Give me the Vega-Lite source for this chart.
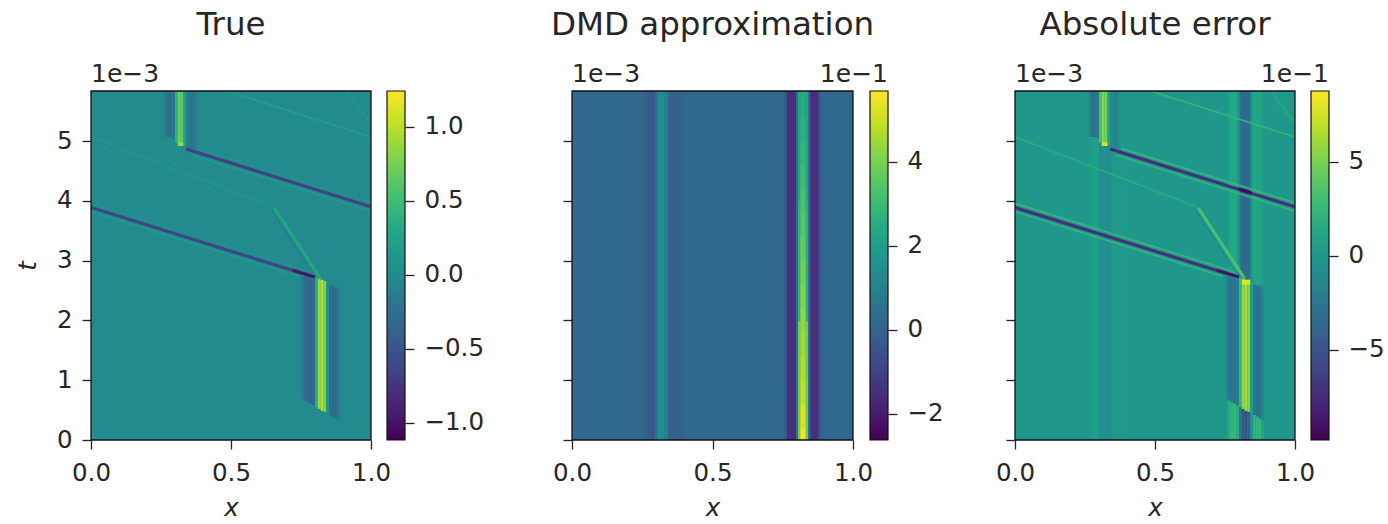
{
"$schema":"https://vega.github.io/schema/vega-lite/v6.json",
"padding":{"left":15,"top":8,"right":0,"bottom":6},
"background":"white",
"config":{"view":{"stroke":null},"font":"DejaVu Sans",
"title":{"font":"DejaVu Sans","fontSize":32.5,"fontWeight":"normal","color":"#262626","anchor":"middle","offset":21,"baseline":"alphabetic"},
"axis":{"domain":false,"grid":false,"tickColor":"#222222","tickSize":9,"tickWidth":1.3,"labelFont":"DejaVu Sans","labelFontSize":24.5,"labelColor":"#262626","labelPadding":10,"titleFont":"DejaVu Sans","titleFontSize":24.5,"titleFontWeight":"normal","titleFontStyle":"italic","titleColor":"#262626","titlePadding":16,"labelFlush":false,"labelOverlap":false},
"axisX":{"labelPadding":12,"titlePadding":12}},
"datasets":{
"frame":[{"x":0,"x2":1,"t":0,"t2":5.84}],
"off3":[{"x":0,"t":5.84,"label":"1e−3"}],
"p1r":[
{"x":0,"x2":1,"t":0,"t2":5.84,"v":0},
{"x":0.75,"x2":0.76,"t":0.69,"t2":2.74,"v":-0.12},
{"x":0.76,"x2":0.77,"t":0.66,"t2":2.74,"v":-0.3},
{"x":0.77,"x2":0.78,"t":0.63,"t2":2.74,"v":-0.36},
{"x":0.78,"x2":0.79,"t":0.61,"t2":2.74,"v":-0.38},
{"x":0.79,"x2":0.8,"t":0.58,"t2":2.74,"v":-0.3},
{"x":0.8,"x2":0.81,"t":0.55,"t2":2.72,"v":0.35},
{"x":0.81,"x2":0.82,"t":0.52,"t2":2.7,"v":0.88},
{"x":0.82,"x2":0.83,"t":0.49,"t2":2.68,"v":1.0},
{"x":0.83,"x2":0.84,"t":0.47,"t2":2.66,"v":0.8},
{"x":0.84,"x2":0.85,"t":0.44,"t2":2.62,"v":0.1},
{"x":0.85,"x2":0.86,"t":0.42,"t2":2.6,"v":-0.25},
{"x":0.86,"x2":0.87,"t":0.39,"t2":2.58,"v":-0.33},
{"x":0.87,"x2":0.88,"t":0.36,"t2":2.56,"v":-0.33},
{"x":0.88,"x2":0.89,"t":0.33,"t2":2.54,"v":-0.15},
{"x":0.26,"x2":0.27,"t":5.07,"t2":5.84,"v":-0.12},
{"x":0.27,"x2":0.29,"t":5.07,"t2":5.84,"v":-0.28},
{"x":0.29,"x2":0.3,"t":5.05,"t2":5.84,"v":-0.22},
{"x":0.3,"x2":0.31,"t":4.98,"t2":5.84,"v":0.4},
{"x":0.31,"x2":0.32,"t":4.94,"t2":5.84,"v":0.72},
{"x":0.32,"x2":0.33,"t":4.92,"t2":5.84,"v":0.68},
{"x":0.33,"x2":0.34,"t":4.92,"t2":5.84,"v":0.2},
{"x":0.34,"x2":0.35,"t":4.9,"t2":5.84,"v":-0.12},
{"x":0.35,"x2":0.37,"t":4.88,"t2":5.84,"v":-0.2},
{"x":0.37,"x2":0.38,"t":4.87,"t2":5.84,"v":-0.07},
{"x":0.31,"x2":0.33,"t":4.92,"t2":4.98,"v":0.88}
],
"p1h":[
{"x":0,"t":3.89,"x2":0.78,"t2":2.75,"v":-0.65},
{"x":0.72,"t":2.84,"x2":0.8,"t2":2.73,"v":-1.0},
{"x":0.34,"t":4.87,"x2":1,"t2":3.9,"v":-0.68},
{"x":0.655,"t":3.88,"x2":0.82,"t2":2.7,"v":0.3},
{"x":0.913,"t":5.84,"x2":1,"t2":5.3,"v":0.09}
],
"p1t":[
{"x":0,"t":3.82,"x2":0.74,"t2":2.74,"v":0.18},
{"x":0,"t":3.96,"x2":0.78,"t2":2.82,"v":0.08},
{"x":0.36,"t":4.77,"x2":1,"t2":3.83,"v":0.18},
{"x":0.38,"t":4.88,"x2":1,"t2":3.97,"v":0.08},
{"x":0,"t":5.07,"x2":0.65,"t2":3.9,"v":0.14},
{"x":0.485,"t":5.84,"x2":1,"t2":5.07,"v":0.22},
{"x":0.645,"t":3.85,"x2":0.79,"t2":2.8,"v":-0.12}
],
"p2r":[
{"x":0,"x2":1,"t":0,"t2":5.84,"v":0.15},
{"x":0.255,"x2":0.27,"t":0,"t2":5.84,"v":-0.05},
{"x":0.27,"x2":0.295,"t":0,"t2":5.84,"v":-0.35},
{"x":0.295,"x2":0.305,"t":0,"t2":5.84,"v":0.5},
{"x":0.305,"x2":0.33,"t":0,"t2":5.84,"v":1.4},
{"x":0.33,"x2":0.342,"t":0,"t2":5.84,"v":0.9},
{"x":0.342,"x2":0.355,"t":0,"t2":5.84,"v":-0.05},
{"x":0.355,"x2":0.385,"t":0,"t2":5.84,"v":-0.12},
{"x":0.385,"x2":0.395,"t":0,"t2":5.84,"v":0.02},
{"x":0.755,"x2":0.765,"t":0,"t2":5.84,"v":-0.3},
{"x":0.765,"x2":0.797,"t":0,"t2":5.84,"v":-1.5},
{"x":0.797,"x2":0.804,"t":0,"t2":5.84,"v":0.3},
{"x":0.84,"x2":0.848,"t":0,"t2":5.84,"v":0.3},
{"x":0.848,"x2":0.878,"t":0,"t2":5.84,"v":-1.5},
{"x":0.878,"x2":0.888,"t":0,"t2":5.84,"v":-0.3},
{"x":0.804,"x2":0.812,"t":0,"t2":2,"v":3.8},
{"x":0.804,"x2":0.812,"t":2,"t2":4,"v":2.7},
{"x":0.804,"x2":0.812,"t":4,"t2":5.84,"v":2.3},
{"x":0.832,"x2":0.84,"t":0,"t2":2,"v":3.8},
{"x":0.832,"x2":0.84,"t":2,"t2":4,"v":2.7},
{"x":0.832,"x2":0.84,"t":4,"t2":5.84,"v":2.3},
{"x":0.812,"x2":0.832,"t":0,"t2":0.22,"v":5.5},
{"x":0.812,"x2":0.832,"t":0.2,"t2":0.62,"v":5.2},
{"x":0.812,"x2":0.832,"t":0.6,"t2":1.02,"v":4.9},
{"x":0.812,"x2":0.832,"t":1,"t2":1.42,"v":4.7},
{"x":0.812,"x2":0.832,"t":1.4,"t2":1.82,"v":4.5},
{"x":0.812,"x2":0.832,"t":1.8,"t2":2.22,"v":4.3},
{"x":0.812,"x2":0.832,"t":2.2,"t2":2.62,"v":4.1},
{"x":0.812,"x2":0.832,"t":2.6,"t2":3.02,"v":3.9},
{"x":0.812,"x2":0.832,"t":3,"t2":3.42,"v":3.7},
{"x":0.812,"x2":0.832,"t":3.4,"t2":3.82,"v":3.5},
{"x":0.812,"x2":0.832,"t":3.8,"t2":4.22,"v":3.3},
{"x":0.812,"x2":0.832,"t":4.2,"t2":4.62,"v":3.1},
{"x":0.812,"x2":0.832,"t":4.6,"t2":5.02,"v":2.9},
{"x":0.812,"x2":0.832,"t":5,"t2":5.42,"v":2.7},
{"x":0.812,"x2":0.832,"t":5.4,"t2":5.84,"v":2.5}
],
"p3r":[
{"x":0,"x2":1,"t":0,"t2":5.84,"v":0},
{"x":0.26,"x2":0.27,"t":0,"t2":5.84,"v":0.3},
{"x":0.27,"x2":0.3,"t":0,"t2":5.84,"v":0.6},
{"x":0.3,"x2":0.345,"t":0,"t2":5.84,"v":-0.7},
{"x":0.345,"x2":0.39,"t":0,"t2":5.84,"v":0.25},
{"x":0.755,"x2":0.765,"t":2.7,"t2":5.84,"v":0.4},
{"x":0.765,"x2":0.795,"t":2.7,"t2":5.84,"v":1.3},
{"x":0.795,"x2":0.805,"t":2.7,"t2":5.84,"v":-0.8},
{"x":0.805,"x2":0.84,"t":2.7,"t2":5.84,"v":-3.5},
{"x":0.84,"x2":0.848,"t":2.7,"t2":5.84,"v":-0.8},
{"x":0.848,"x2":0.88,"t":2.6,"t2":5.84,"v":1.2},
{"x":0.88,"x2":0.89,"t":2.6,"t2":5.84,"v":0.4},
{"x":0.76,"x2":0.77,"t":0,"t2":0.66,"v":1.8},
{"x":0.77,"x2":0.78,"t":0,"t2":0.63,"v":2.5},
{"x":0.78,"x2":0.79,"t":0,"t2":0.61,"v":2.5},
{"x":0.79,"x2":0.8,"t":0,"t2":0.58,"v":1.8},
{"x":0.8,"x2":0.81,"t":0,"t2":0.55,"v":-2.5},
{"x":0.81,"x2":0.82,"t":0,"t2":0.52,"v":-5},
{"x":0.82,"x2":0.83,"t":0,"t2":0.49,"v":-5.2},
{"x":0.83,"x2":0.84,"t":0,"t2":0.47,"v":-4.5},
{"x":0.84,"x2":0.85,"t":0,"t2":0.44,"v":-0.3},
{"x":0.85,"x2":0.86,"t":0,"t2":0.42,"v":2},
{"x":0.86,"x2":0.87,"t":0,"t2":0.39,"v":2.5},
{"x":0.87,"x2":0.88,"t":0,"t2":0.36,"v":2.5},
{"x":0.88,"x2":0.89,"t":0,"t2":0.33,"v":1},
{"x":0.75,"x2":0.76,"t":0.69,"t2":2.74,"v":-1},
{"x":0.76,"x2":0.77,"t":0.66,"t2":2.74,"v":-2.6},
{"x":0.77,"x2":0.78,"t":0.63,"t2":2.74,"v":-2.8},
{"x":0.78,"x2":0.79,"t":0.61,"t2":2.74,"v":-2.8},
{"x":0.79,"x2":0.8,"t":0.58,"t2":2.74,"v":-2.2},
{"x":0.8,"x2":0.81,"t":0.55,"t2":2.72,"v":2.5},
{"x":0.81,"x2":0.82,"t":0.52,"t2":2.7,"v":5.8},
{"x":0.82,"x2":0.83,"t":0.49,"t2":2.68,"v":6.4},
{"x":0.83,"x2":0.84,"t":0.47,"t2":2.66,"v":5.2},
{"x":0.84,"x2":0.85,"t":0.44,"t2":2.62,"v":0.5},
{"x":0.85,"x2":0.86,"t":0.42,"t2":2.6,"v":-2.5},
{"x":0.86,"x2":0.87,"t":0.39,"t2":2.58,"v":-3},
{"x":0.87,"x2":0.88,"t":0.36,"t2":2.56,"v":-3},
{"x":0.88,"x2":0.89,"t":0.33,"t2":2.54,"v":-1.5},
{"x":0.81,"x2":0.84,"t":2.6,"t2":2.68,"v":8},
{"x":0.26,"x2":0.27,"t":5.07,"t2":5.84,"v":-1},
{"x":0.27,"x2":0.29,"t":5.07,"t2":5.84,"v":-3},
{"x":0.29,"x2":0.3,"t":5.05,"t2":5.84,"v":-2.5},
{"x":0.3,"x2":0.31,"t":4.98,"t2":5.84,"v":3.5},
{"x":0.31,"x2":0.32,"t":4.94,"t2":5.84,"v":5.4},
{"x":0.32,"x2":0.33,"t":4.92,"t2":5.84,"v":5},
{"x":0.33,"x2":0.34,"t":4.92,"t2":5.84,"v":1},
{"x":0.34,"x2":0.35,"t":4.9,"t2":5.84,"v":-1},
{"x":0.35,"x2":0.37,"t":4.88,"t2":5.84,"v":-1.6},
{"x":0.37,"x2":0.38,"t":4.87,"t2":5.84,"v":-0.5},
{"x":0.31,"x2":0.33,"t":4.92,"t2":4.98,"v":8}
],
"p3h":[
{"x":0,"t":3.89,"x2":0.78,"t2":2.75,"v":-7.5},
{"x":0.72,"t":2.84,"x2":0.8,"t2":2.73,"v":-9},
{"x":0.34,"t":4.87,"x2":1,"t2":3.9,"v":-7.5},
{"x":0.8,"t":4.2,"x2":0.845,"t2":4.13,"v":-9.5},
{"x":0.655,"t":3.88,"x2":0.82,"t2":2.7,"v":3.5},
{"x":0.913,"t":5.84,"x2":1,"t2":5.3,"v":1}
],
"p3t":[
{"x":0,"t":3.82,"x2":0.74,"t2":2.74,"v":2.6},
{"x":0,"t":3.96,"x2":0.78,"t2":2.82,"v":2.6},
{"x":0.36,"t":4.77,"x2":1,"t2":3.83,"v":2.6},
{"x":0.38,"t":4.88,"x2":1,"t2":3.97,"v":2.6},
{"x":0,"t":5.07,"x2":0.65,"t2":3.9,"v":1.7},
{"x":0.485,"t":5.84,"x2":1,"t2":5.07,"v":2.5},
{"x":0.645,"t":3.85,"x2":0.79,"t2":2.8,"v":-1}
],
"c1":[{"a":0,"b":1,"v":-1.115,"v2":1.243}],
"c2":[{"a":0,"b":1,"v":-2.62,"v2":5.69}],
"c3":[{"a":0,"b":1,"v":-9.8,"v2":8.76}],
"o2":[{"a":1,"v":5.69,"label":"1e−1"}],
"o3":[{"a":1,"v":8.76,"label":"1e−1"}]
},
"bounds":"flush","spacing":0,
"resolve":{"scale":{"color":"independent"}},
"hconcat":[
{"width":280,"height":349,"title":"True","layer":[
{"data":{"name":"p1r"},"mark":{"type":"rect"},"encoding":{"x":{"field":"x","type":"quantitative","scale":{"domain":[0,1],"nice":false},"axis":{"title":"x","values":[0,0.5,1],"format":".1f"}},"x2":{"field":"x2"},"y":{"field":"t","type":"quantitative","scale":{"domain":[0,5.84],"nice":false},"axis":{"title":"t","values":[0,1,2,3,4,5],"format":"d"}},"y2":{"field":"t2"},"color":{"field":"v","type":"quantitative","scale":{"scheme":"viridis","domain":[-1.115,1.243],"clamp":true},"legend":null}}},
{"data":{"name":"p1h"},"mark":{"type":"rule","strokeWidth":3,"clip":true},"encoding":{"x":{"field":"x","type":"quantitative"},"x2":{"field":"x2"},"y":{"field":"t","type":"quantitative"},"y2":{"field":"t2"},"color":{"field":"v","type":"quantitative","scale":{"scheme":"viridis","domain":[-1.115,1.243],"clamp":true},"legend":null}}},
{"data":{"name":"p1t"},"mark":{"type":"rule","strokeWidth":1.6,"clip":true},"encoding":{"x":{"field":"x","type":"quantitative"},"x2":{"field":"x2"},"y":{"field":"t","type":"quantitative"},"y2":{"field":"t2"},"color":{"field":"v","type":"quantitative","scale":{"scheme":"viridis","domain":[-1.115,1.243],"clamp":true},"legend":null}}},
{"data":{"name":"frame"},"mark":{"type":"rect","fill":"transparent","stroke":"#111111","strokeWidth":1.3},"encoding":{"x":{"field":"x","type":"quantitative"},"x2":{"field":"x2"},"y":{"field":"t","type":"quantitative"},"y2":{"field":"t2"}}},
{"data":{"name":"off3"},"mark":{"type":"text","align":"left","baseline":"alphabetic","dy":-9,"fontSize":25,"color":"#262626"},"encoding":{"x":{"field":"x","type":"quantitative"},"y":{"field":"t","type":"quantitative"},"text":{"field":"label"}}}
]},
{"width":16,"height":349,"data":{"name":"frame"},"mark":{"type":"rule","opacity":0},"encoding":{}},
{"width":18,"height":349,"layer":[
{"data":{"name":"c1"},"mark":{"type":"rect","stroke":"#111111","strokeWidth":1.2,"color":{"gradient":"linear","x1":0,"y1":1,"x2":0,"y2":0,"stops":[{"offset":0,"color":"#440154"},{"offset":0.1,"color":"#482475"},{"offset":0.2,"color":"#414487"},{"offset":0.3,"color":"#355f8d"},{"offset":0.4,"color":"#2a788e"},{"offset":0.5,"color":"#21918c"},{"offset":0.6,"color":"#22a884"},{"offset":0.7,"color":"#44bf70"},{"offset":0.8,"color":"#7ad151"},{"offset":0.9,"color":"#bddf26"},{"offset":1,"color":"#fde725"}]}},"encoding":{"x":{"field":"a","type":"quantitative","scale":{"domain":[0,1]},"axis":null},"x2":{"field":"b"},"y":{"field":"v","type":"quantitative","scale":{"domain":[-1.115,1.243],"nice":false,"zero":false},"axis":{"orient":"right","title":null,"values":[-1,-0.5,0,0.5,1],"format":".1f"}},"y2":{"field":"v2"}}}
]},
{"width":167,"height":349,"data":{"name":"frame"},"mark":{"type":"rule","opacity":0},"encoding":{}},
{"width":281,"height":349,"title":"DMD approximation","layer":[
{"data":{"name":"p2r"},"mark":{"type":"rect"},"encoding":{"x":{"field":"x","type":"quantitative","scale":{"domain":[0,1],"nice":false},"axis":{"title":"x","values":[0,0.5,1],"format":".1f"}},"x2":{"field":"x2"},"y":{"field":"t","type":"quantitative","scale":{"domain":[0,5.84],"nice":false},"axis":{"title":null,"values":[0,1,2,3,4,5],"labels":false}},"y2":{"field":"t2"},"color":{"field":"v","type":"quantitative","scale":{"scheme":"viridis","domain":[-2.62,5.69],"clamp":true},"legend":null}}},
{"data":{"name":"frame"},"mark":{"type":"rect","fill":"transparent","stroke":"#111111","strokeWidth":1.3},"encoding":{"x":{"field":"x","type":"quantitative"},"x2":{"field":"x2"},"y":{"field":"t","type":"quantitative"},"y2":{"field":"t2"}}},
{"data":{"name":"off3"},"mark":{"type":"text","align":"left","baseline":"alphabetic","dy":-9,"fontSize":25,"color":"#262626"},"encoding":{"x":{"field":"x","type":"quantitative"},"y":{"field":"t","type":"quantitative"},"text":{"field":"label"}}}
]},
{"width":17,"height":349,"data":{"name":"frame"},"mark":{"type":"rule","opacity":0},"encoding":{}},
{"width":18,"height":349,"layer":[
{"data":{"name":"c2"},"mark":{"type":"rect","stroke":"#111111","strokeWidth":1.2,"color":{"gradient":"linear","x1":0,"y1":1,"x2":0,"y2":0,"stops":[{"offset":0,"color":"#440154"},{"offset":0.1,"color":"#482475"},{"offset":0.2,"color":"#414487"},{"offset":0.3,"color":"#355f8d"},{"offset":0.4,"color":"#2a788e"},{"offset":0.5,"color":"#21918c"},{"offset":0.6,"color":"#22a884"},{"offset":0.7,"color":"#44bf70"},{"offset":0.8,"color":"#7ad151"},{"offset":0.9,"color":"#bddf26"},{"offset":1,"color":"#fde725"}]}},"encoding":{"x":{"field":"a","type":"quantitative","scale":{"domain":[0,1]},"axis":null},"x2":{"field":"b"},"y":{"field":"v","type":"quantitative","scale":{"domain":[-2.62,5.69],"nice":false,"zero":false},"axis":{"orient":"right","title":null,"values":[-2,0,2,4],"format":"d"}},"y2":{"field":"v2"}}},
{"data":{"name":"o2"},"mark":{"type":"text","align":"right","baseline":"alphabetic","dy":-9,"fontSize":25,"color":"#262626"},"encoding":{"x":{"field":"a","type":"quantitative"},"y":{"field":"v","type":"quantitative"},"text":{"field":"label"}}}
]},
{"width":127,"height":349,"data":{"name":"frame"},"mark":{"type":"rule","opacity":0},"encoding":{}},
{"width":280,"height":349,"title":"Absolute error","layer":[
{"data":{"name":"p3r"},"mark":{"type":"rect"},"encoding":{"x":{"field":"x","type":"quantitative","scale":{"domain":[0,1],"nice":false},"axis":{"title":"x","values":[0,0.5,1],"format":".1f"}},"x2":{"field":"x2"},"y":{"field":"t","type":"quantitative","scale":{"domain":[0,5.84],"nice":false},"axis":{"title":null,"values":[0,1,2,3,4,5],"labels":false}},"y2":{"field":"t2"},"color":{"field":"v","type":"quantitative","scale":{"scheme":"viridis","domain":[-9.8,8.76],"clamp":true},"legend":null}}},
{"data":{"name":"p3t"},"mark":{"type":"rule","strokeWidth":1.6,"clip":true},"encoding":{"x":{"field":"x","type":"quantitative"},"x2":{"field":"x2"},"y":{"field":"t","type":"quantitative"},"y2":{"field":"t2"},"color":{"field":"v","type":"quantitative","scale":{"scheme":"viridis","domain":[-9.8,8.76],"clamp":true},"legend":null}}},
{"data":{"name":"p3h"},"mark":{"type":"rule","strokeWidth":3,"clip":true},"encoding":{"x":{"field":"x","type":"quantitative"},"x2":{"field":"x2"},"y":{"field":"t","type":"quantitative"},"y2":{"field":"t2"},"color":{"field":"v","type":"quantitative","scale":{"scheme":"viridis","domain":[-9.8,8.76],"clamp":true},"legend":null}}},
{"data":{"name":"frame"},"mark":{"type":"rect","fill":"transparent","stroke":"#111111","strokeWidth":1.3},"encoding":{"x":{"field":"x","type":"quantitative"},"x2":{"field":"x2"},"y":{"field":"t","type":"quantitative"},"y2":{"field":"t2"}}},
{"data":{"name":"off3"},"mark":{"type":"text","align":"left","baseline":"alphabetic","dy":-9,"fontSize":25,"color":"#262626"},"encoding":{"x":{"field":"x","type":"quantitative"},"y":{"field":"t","type":"quantitative"},"text":{"field":"label"}}}
]},
{"width":16,"height":349,"data":{"name":"frame"},"mark":{"type":"rule","opacity":0},"encoding":{}},
{"width":18,"height":349,"layer":[
{"data":{"name":"c3"},"mark":{"type":"rect","stroke":"#111111","strokeWidth":1.2,"color":{"gradient":"linear","x1":0,"y1":1,"x2":0,"y2":0,"stops":[{"offset":0,"color":"#440154"},{"offset":0.1,"color":"#482475"},{"offset":0.2,"color":"#414487"},{"offset":0.3,"color":"#355f8d"},{"offset":0.4,"color":"#2a788e"},{"offset":0.5,"color":"#21918c"},{"offset":0.6,"color":"#22a884"},{"offset":0.7,"color":"#44bf70"},{"offset":0.8,"color":"#7ad151"},{"offset":0.9,"color":"#bddf26"},{"offset":1,"color":"#fde725"}]}},"encoding":{"x":{"field":"a","type":"quantitative","scale":{"domain":[0,1]},"axis":null},"x2":{"field":"b"},"y":{"field":"v","type":"quantitative","scale":{"domain":[-9.8,8.76],"nice":false,"zero":false},"axis":{"orient":"right","title":null,"values":[-5,0,5],"format":"d"}},"y2":{"field":"v2"}}},
{"data":{"name":"o3"},"mark":{"type":"text","align":"right","baseline":"alphabetic","dy":-9,"fontSize":25,"color":"#262626"},"encoding":{"x":{"field":"a","type":"quantitative"},"y":{"field":"v","type":"quantitative"},"text":{"field":"label"}}}
]}
]
}
